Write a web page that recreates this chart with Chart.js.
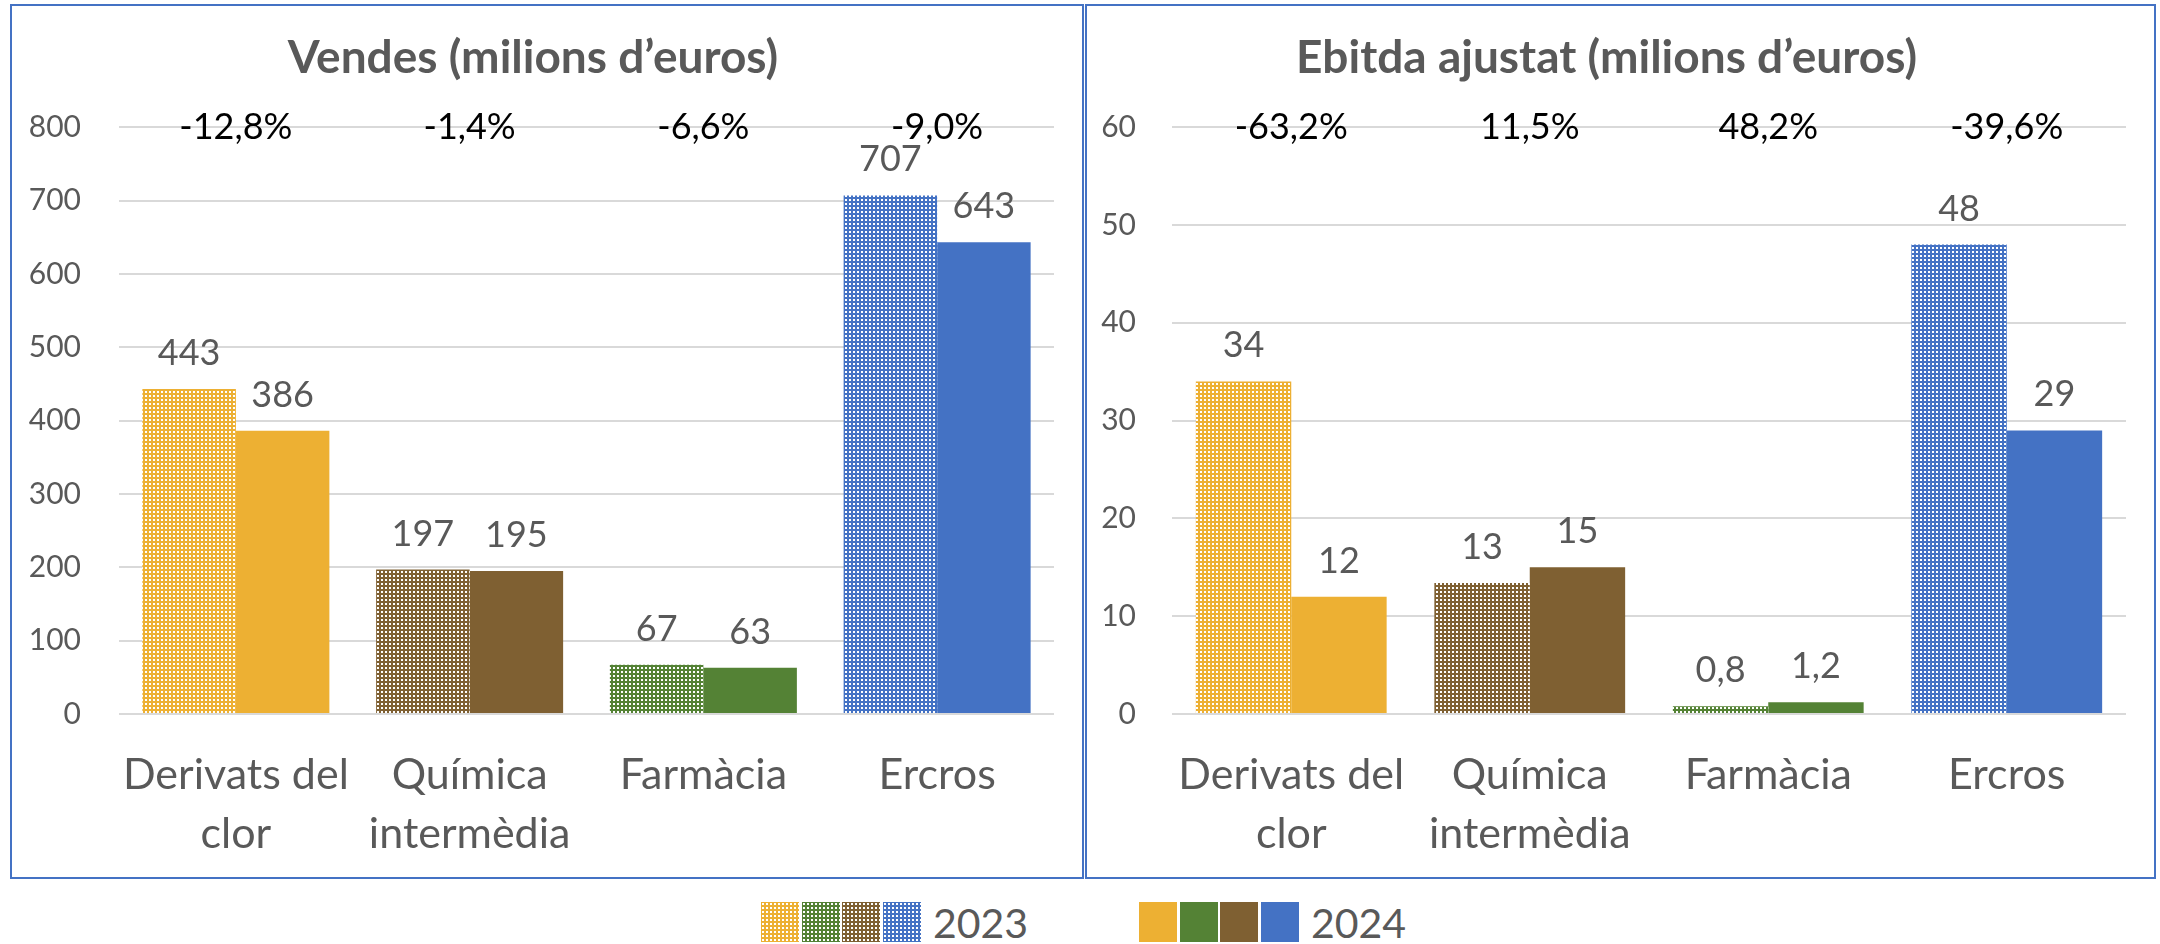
<!DOCTYPE html>
<html>
<head>
<meta charset="utf-8">
<script src="https://cdn.jsdelivr.net/npm/chart.js@4.4.1/dist/chart.umd.min.js"></script>
<style>
  body { margin: 0; width: 2160px; height: 944px; background: #fff; overflow: hidden; position: relative; font-family: Lato, sans-serif; }
  .panel { position: absolute; top: 4px; height: 875px; border: 2px solid #4472C4; box-sizing: border-box; }
  #leftPanel { left: 10px; width: 1074px; }
  #rightPanel { left: 1085px; width: 1071px; }
  .panel div { position: absolute; left: 0; top: 0; right: 0; bottom: 0; }
  .legendItem { position: absolute; top: 902px; display: flex; align-items: flex-start; }
  .swatch { width: 38px; height: 40px; margin-right: 2.5px; }
  .legendItem span { font-size: 41px; line-height: 41px; color: #595959; margin-left: 10px; }
</style>
</head>
<body>
<div class="panel" id="leftPanel"><div><canvas id="salesChart"></canvas></div></div>
<div class="panel" id="rightPanel"><div><canvas id="ebitdaChart"></canvas></div></div>
<div class="legendItem" id="legend2023" style="left:761px"></div>
<div class="legendItem" id="legend2024" style="left:1139px"></div>
<script>
// data
const categories = [['Derivats del', 'clor'], ['Química', 'intermèdia'], 'Farmàcia', 'Ercros'];
const years = ['2023', '2024'];
const sales2023 = [443, 197, 67, 707];
const sales2024 = [386, 195, 63, 643];
const salesChange = ['-12,8%', '-1,4%', '-6,6%', '-9,0%'];
const ebitda2023 = [34, 13.4, 0.8, 48];
const ebitda2024 = [12, 15, 1.2, 29];
const ebitdaChange = ['-63,2%', '11,5%', '48,2%', '-39,6%'];
const categoryColours = ['#EDB033', '#7F6032', '#548235', '#4472C4'];
const legendOrder = [0, 2, 1, 3];

Chart.defaults.font.family = 'Lato';
Chart.defaults.color = '#595959';

// dotted fill used for the 2023 bars
function dotTile(colour) {
    var c = document.createElement('canvas');
    c.width = 4;
    c.height = 4;
    var g = c.getContext('2d');
    g.fillStyle = colour;
    g.fillRect(0, 0, 4, 4);
    g.fillStyle = '#fff';
    g.fillRect(1, 1, 2, 2);
    return c;
}
var patternCtx = document.createElement('canvas').getContext('2d');
var dottedColours = categoryColours.map(function (c) {
    return patternCtx.createPattern(dotTile(c), 'repeat');
});

// value labels above each bar
var barLabels = {
    id: 'barLabels',
    afterDatasetsDraw: function (chart, args, opts) {
        var ctx = chart.ctx;
        ctx.save();
        ctx.font = '36px Lato';
        ctx.fillStyle = '#595959';
        ctx.textAlign = 'center';
        ctx.textBaseline = 'alphabetic';
        chart.data.datasets.forEach(function (ds, i) {
            chart.getDatasetMeta(i).data.forEach(function (bar, j) {
                ctx.fillText(opts.format(ds.data[j]), bar.x, bar.y - 24);
            });
        });
        ctx.restore();
    }
};

// % change written along the top gridline
var changeLabels = {
    id: 'changeLabels',
    afterDatasetsDraw: function (chart, args, opts) {
        var ctx = chart.ctx;
        var x = chart.scales.x, y = chart.scales.y;
        ctx.save();
        ctx.font = '36px Lato';
        ctx.fillStyle = '#000';
        ctx.textAlign = 'center';
        ctx.textBaseline = 'middle';
        opts.texts.forEach(function (t, i) {
            ctx.fillText(t, x.getPixelForValue(i), y.getPixelForValue(y.max));
        });
        ctx.restore();
    }
};

function makeChart(id, title, v2023, v2024, changes, max, step, axisWidth, tickPad, format) {
    return new Chart(document.getElementById(id), {
        type: 'bar',
        data: {
            labels: categories,
            datasets: [{
                label: years[0],
                data: v2023,
                backgroundColor: dottedColours
            }, {
                label: years[1],
                data: v2024,
                backgroundColor: categoryColours
            }]
        },
        options: {
            responsive: true,
            maintainAspectRatio: false,
            animation: false,
            events: [],
            layout: { padding: { left: 0, right: 28, top: 0, bottom: 0 } },
            datasets: { bar: { categoryPercentage: 0.8, barPercentage: 1.0 } },
            plugins: {
                legend: { display: false },
                tooltip: { enabled: false },
                title: {
                    display: true,
                    text: title,
                    color: '#595959',
                    font: { size: 46, weight: 'bold', lineHeight: 1.2 },
                    padding: { top: 25, bottom: 41 }
                },
                barLabels: { format: format },
                changeLabels: { texts: changes }
            },
            scales: {
                x: {
                    grid: { display: false, drawTicks: false },
                    border: { display: false },
                    ticks: { font: { size: 43, lineHeight: 1.37 }, color: '#595959', padding: 32, maxRotation: 0, minRotation: 0, autoSkip: false },
                    afterFit: function (s) { s.height = 163; }
                },
                y: {
                    min: 0,
                    max: max,
                    grid: { color: '#D9D9D9', lineWidth: 2, drawTicks: false },
                    border: { display: false },
                    ticks: { stepSize: step, font: { size: 30 }, color: '#595959', padding: tickPad },
                    afterFit: function (s) { s.width = axisWidth; }
                }
            }
        },
        plugins: [barLabels, changeLabels]
    });
}

makeChart('salesChart', 'Vendes (milions d’euros)', sales2023, sales2024, salesChange, 800, 100, 107, 38,
    function (v) { return String(v); });
makeChart('ebitdaChart', 'Ebitda ajustat (milions d’euros)', ebitda2023, ebitda2024, ebitdaChange, 60, 10, 85, 36,
    function (v) { return v >= 10 ? String(Math.round(v)) : v.toFixed(1).replace('.', ','); });

// legend: four swatches per year
[['legend2023', dotTile], ['legend2024', null]].forEach(function (item, k) {
    var box = document.getElementById(item[0]);
    legendOrder.forEach(function (i) {
        var sw = document.createElement('div');
        sw.className = 'swatch';
        if (item[1]) sw.style.background = 'url(' + item[1](categoryColours[i]).toDataURL() + ')';
        else sw.style.background = categoryColours[i];
        box.appendChild(sw);
    });
    var txt = document.createElement('span');
    txt.textContent = years[k];
    box.appendChild(txt);
});
</script>
</body>
</html>
